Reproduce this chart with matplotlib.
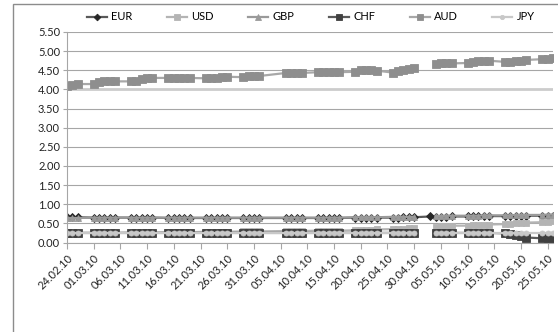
import numpy as np
import pandas as pd
import matplotlib
matplotlib.use("Agg")
import matplotlib.pyplot as plt
from matplotlib.patches import Rectangle

plt.rcParams["font.family"] = ["Lato", "DejaVu Sans"]

nan = np.nan

# 3M rates, one value per trading day 24.02.2010 - 26.05.2010
# (Good Friday and Easter Monday have no row; nan = no fixing that day)
holidays = pd.to_datetime(["2010-04-02", "2010-04-05"])
dates = pd.bdate_range("2010-02-24", "2010-05-26").difference(holidays)

eur = [0.66, 0.66, 0.66,
       0.65, 0.65, 0.65, 0.65, 0.65,
       0.65, 0.65, 0.65, 0.65, 0.65,
       0.64, 0.64, 0.64, 0.64, 0.64,
       0.64, 0.64, 0.64, 0.64, 0.64,
       0.64, 0.64, 0.64, 0.64,
       0.64, 0.64, 0.64, 0.64,
       0.64, 0.64, 0.64, 0.64, 0.64,
       0.65, 0.65, 0.65, 0.65, 0.65,
       0.65, 0.65, 0.66, 0.66, 0.66,
       0.68, 0.67, 0.67, 0.67, 0.68,
       0.68, 0.68, 0.69, 0.69, 0.69,
       0.69, 0.69, 0.69, 0.70, 0.70,
       0.70, 0.70, 0.70]

usd = [0.25, 0.25, 0.25,
       0.25, 0.25, 0.25, 0.25, 0.25,
       0.26, 0.26, 0.26, 0.26, 0.26,
       0.27, 0.27, 0.27, 0.27, 0.27,
       0.28, 0.28, 0.28, 0.28, 0.28,
       0.29, 0.29, 0.29, 0.29,
       0.30, 0.30, 0.30, 0.30,
       0.31, 0.31, 0.31, 0.31, 0.31,
       0.32, 0.32, 0.33, 0.33, 0.34,
       0.35, 0.36, 0.36, 0.37, 0.37,
       nan, 0.40, 0.42, 0.43, 0.44,
       0.44, 0.45, 0.45, 0.46, 0.47,
       0.48, 0.49, 0.50, 0.51, 0.52,
       0.53, 0.54, 0.55]

gbp = [0.64, 0.64, 0.64,
       0.65, 0.65, 0.65, 0.65, 0.65,
       0.65, 0.65, 0.65, 0.65, 0.65,
       0.65, 0.65, 0.65, 0.65, 0.65,
       0.65, 0.65, 0.65, 0.65, 0.65,
       0.65, 0.65, 0.65, 0.65,
       0.65, 0.65, 0.65, 0.65,
       0.65, 0.65, 0.65, 0.65, 0.65,
       0.66, 0.66, 0.66, 0.66, 0.66,
       0.67, 0.67, 0.67, 0.67, 0.67,
       nan, 0.69, 0.69, 0.70, 0.70,
       0.70, 0.70, 0.70, 0.71, 0.71,
       0.71, 0.71, 0.72, 0.72, 0.72,
       0.72, 0.73, 0.73]

chf = [0.25, 0.25, 0.25,
       0.25, 0.25, 0.25, 0.25, 0.25,
       0.25, 0.25, 0.25, 0.25, 0.25,
       0.25, 0.25, 0.25, 0.25, 0.25,
       0.25, 0.25, 0.25, 0.25, 0.25,
       0.25, 0.25, 0.25, 0.25,
       0.25, 0.25, 0.25, 0.25,
       0.25, 0.25, 0.25, 0.25, 0.25,
       0.25, 0.25, 0.25, 0.25, 0.25,
       0.25, 0.25, 0.25, 0.25, 0.25,
       nan, 0.25, 0.25, 0.25, 0.25,
       0.25, 0.25, 0.25, 0.25, 0.25,
       0.24, 0.22, 0.19, 0.16, 0.13,
       0.11, 0.10, 0.10]

aud = [4.09, 4.12, 4.14,
       4.14, 4.20, 4.21, 4.21, 4.21,
       4.21, 4.23, 4.27, 4.30, 4.30,
       4.30, 4.30, 4.30, 4.30, 4.30,
       4.29, 4.29, 4.30, 4.32, 4.33,
       4.32, 4.34, 4.35, 4.35,
       4.43, 4.43, 4.43, 4.43,
       4.45, 4.45, 4.45, 4.45, 4.45,
       4.46, 4.50, 4.52, 4.51, 4.49,
       4.44, 4.47, 4.50, 4.53, 4.55,
       nan, 4.67, 4.70, 4.70, 4.68,
       4.69, 4.72, 4.74, 4.75, 4.75,
       4.72, 4.72, 4.73, 4.75, 4.77,
       4.79, 4.80, 4.81]

jpy = [0.25, 0.25, 0.25,
       0.25, 0.25, 0.25, 0.25, 0.25,
       0.25, 0.25, 0.25, 0.25, 0.25,
       0.25, 0.25, 0.25, 0.25, 0.25,
       0.25, 0.25, 0.25, 0.25, 0.25,
       0.25, 0.25, 0.25, 0.25,
       0.25, 0.25, 0.25, 0.25,
       0.25, 0.25, 0.25, 0.25, 0.25,
       0.25, 0.25, 0.25, 0.25, 0.25,
       0.25, 0.25, 0.25, 0.25, 0.25,
       nan, 0.25, 0.25, 0.25, 0.25,
       0.25, 0.25, 0.25, 0.25, 0.25,
       0.25, 0.25, 0.25, 0.25, 0.25,
       0.25, 0.25, 0.25]

series = [
    # name, values, line colour, marker, marker size, marker colour
    ("EUR", eur, "#595959", "D", 4.0, "#262626"),
    ("USD", usd, "#b4b4b4", "s", 4.6, "#b4b4b4"),
    ("GBP", gbp, "#9a9a9a", "^", 5.0, "#9a9a9a"),
    ("CHF", chf, "#5a5a5a", "s", 5.2, "#404040"),
    ("AUD", aud, "#a8a8a8", "s", 5.4, "#8e8e8e"),
    ("JPY", jpy, "#c8c8c8", "o", 3.6, "#c8c8c8"),
]

fig = plt.figure(figsize=(5.58, 3.32), dpi=100)
ax = fig.add_axes([67 / 558, 1 - 242.5 / 332, (553 - 67) / 558, (242.5 - 32) / 332])

for name, vals, lc, mk, ms, mc in series:
    ax.plot(dates, vals, color=lc, lw=1.6, marker=mk, markersize=ms,
            markerfacecolor=mc, markeredgecolor=mc, markeredgewidth=0.6,
            label=name)

ax.set_ylim(0, 5.5)
yt = np.arange(0, 5.51, 0.5)
ax.set_yticks(yt)
ax.set_yticklabels([f"{v:.2f}" for v in yt])
ax.set_xlim(dates[0], pd.Timestamp("2010-05-26"))
xt = pd.date_range("2010-02-24", "2010-05-25", freq="5D")
ax.set_xticks(xt)
ax.set_xticklabels([d.strftime("%d.%m.%y") for d in xt], rotation=45,
                   ha="right", rotation_mode="anchor")

ax.grid(axis="y", color="#a6a6a6", lw=0.8)
ax.set_axisbelow(True)
# the 4.00 gridline is drawn wider and lighter
ax.get_ygridlines()[8].set(color="#cccccc", linewidth=2.0)
for s in ("top", "right"):
    ax.spines[s].set_visible(False)
for s in ("left", "bottom"):
    ax.spines[s].set_color("#a6a6a6")
ax.tick_params(axis="x", length=4, color="#a6a6a6", labelsize=8,
               labelcolor="#222222", pad=3)
ax.tick_params(axis="y", length=3, color="#a6a6a6", labelsize=8,
               labelcolor="#222222", pad=2)

fig.legend(loc="center", bbox_to_anchor=(0.557, 1 - 17 / 332), ncol=6,
           frameon=False, fontsize=8, handlelength=1.8, handletextpad=0.4,
           columnspacing=3.1, markerscale=0.85)

# chart area frame
fig.patches.append(Rectangle((13 / 558, -0.1), 1.0, 1.1 - 4 / 332,
                             transform=fig.transFigure, fill=False,
                             ec="#8c8c8c", lw=1.0))

fig.savefig("out.png", dpi=100)
